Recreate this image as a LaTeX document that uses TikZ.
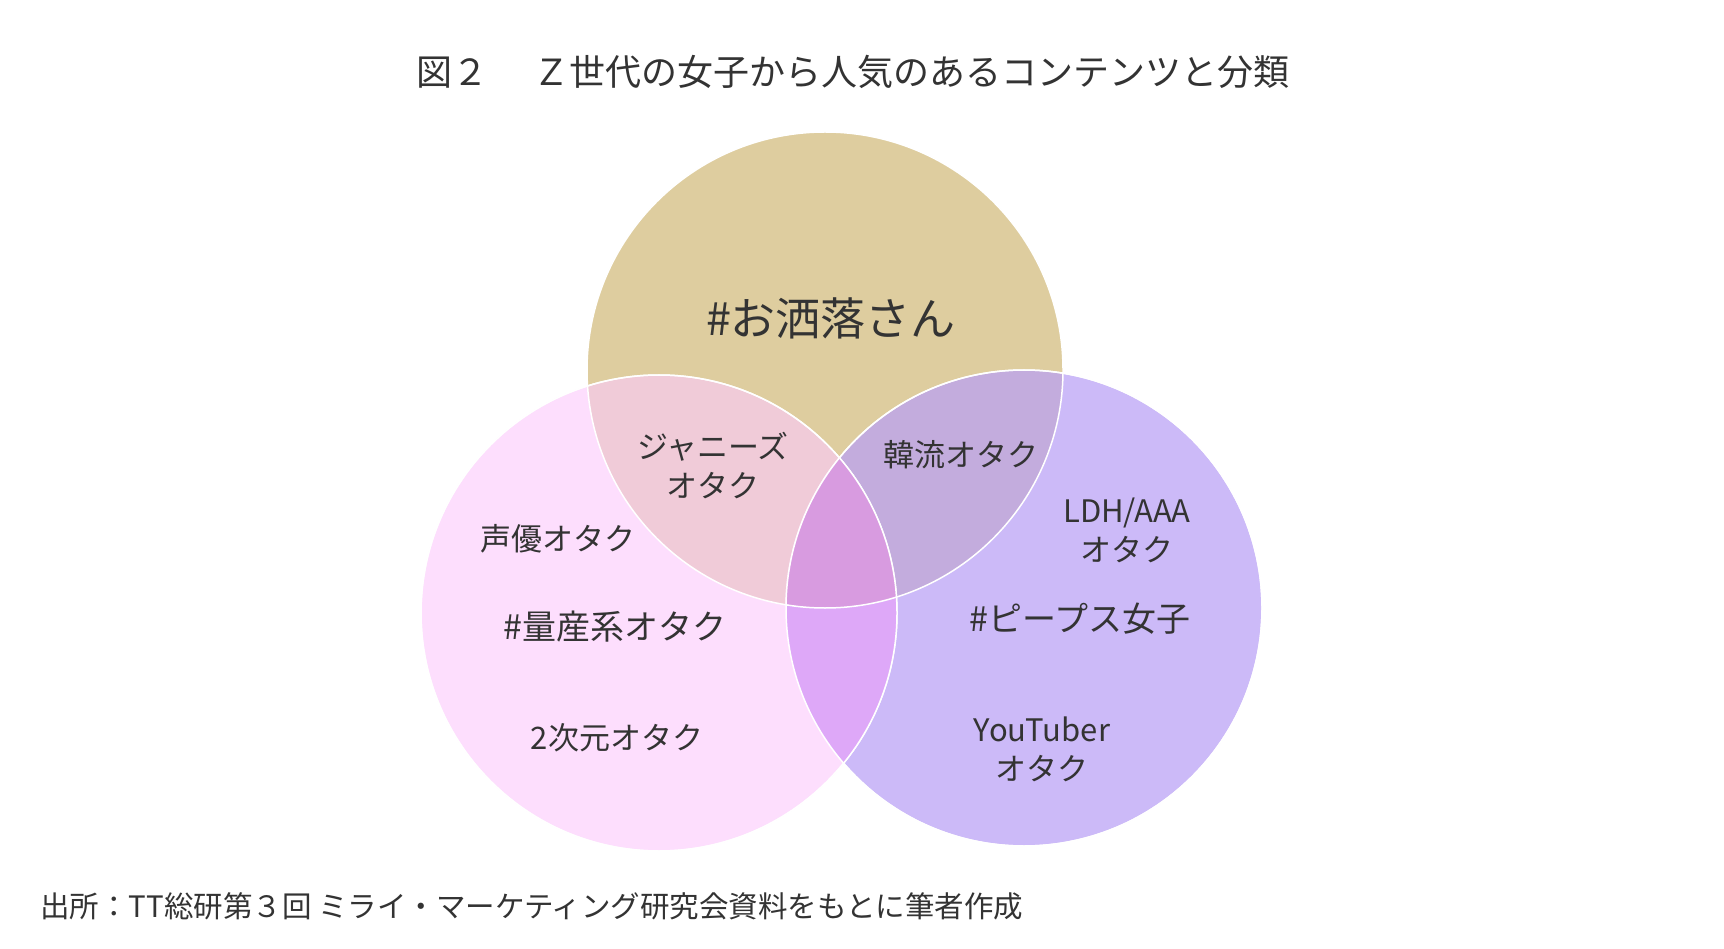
\documentclass[tikz,border=0pt]{standalone}
\usepackage{fontspec}
\setmainfont{Noto Sans CJK JP}
\begin{document}
\begin{tikzpicture}[x=1pt,y=-1pt,
  lab/.style={align=center,font=\fontsize{31}{39}\selectfont,text=black!80,inner sep=0pt},
  venn/.style={draw=white,line width=1.5pt,fill opacity=0.72}]
\useasboundingbox[fill=white] (0,0) rectangle (1724,949);
\definecolor{cg}{HTML}{DECD9F}
\definecolor{cp}{HTML}{FCCBFC}
\definecolor{cv}{HTML}{B9A0F6}
\definecolor{clr}{HTML}{DEA8F8}
\definecolor{call}{HTML}{D89BE0}
\fill[cg] (825,370) circle (238);
\path[venn,fill=cv] (1024,608) circle (238);
\path[venn,fill=cp,fill opacity=0.62] (659,613) circle (238);
\begin{scope}
\clip (659,613) circle (238);
\fill[clr] (1024,608) circle (238);
\clip (1024,608) circle (238);
\fill[call] (825,370) circle (238);
\end{scope}
\draw[white,line width=1.5pt] (825,370) circle (238);
\draw[white,line width=1.5pt] (1024,608) circle (238);
\draw[white,line width=1.5pt] (659,613) circle (238);
\node[lab,font=\fontsize{36}{40}\selectfont] (title) at (853,72) {図２　 Ｚ世代の女子から人気のあるコンテンツと分類};
\node[lab,font=\fontsize{45}{50}\selectfont] (a) at (831,318) {\#お洒落さん};
\node[lab] (b) at (713,466) {ジャニーズ\\オタク};
\node[lab] (c) at (961,455) {韓流オタク};
\node[lab] (d) at (1127,530) {LDH/AAA\\オタク};
\node[lab] (e) at (558,539) {声優オタク};
\node[lab,font=\fontsize{34}{40}\selectfont] (f) at (615,627) {\#量産系オタク};
\node[lab,font=\fontsize{34}{40}\selectfont] (g) at (1080,619) {\#ピープス女子};
\node[lab] (h) at (617,738) {2次元オタク};
\node[lab] (i) at (1042,749) {YouTuber\\オタク};
\node[lab,anchor=west,font=\fontsize{29.5}{32}\selectfont] (src) at (40,906) {出所：TT総研第３回 ミライ・マーケティング研究会資料をもとに筆者作成};
\end{tikzpicture}
\end{document}
